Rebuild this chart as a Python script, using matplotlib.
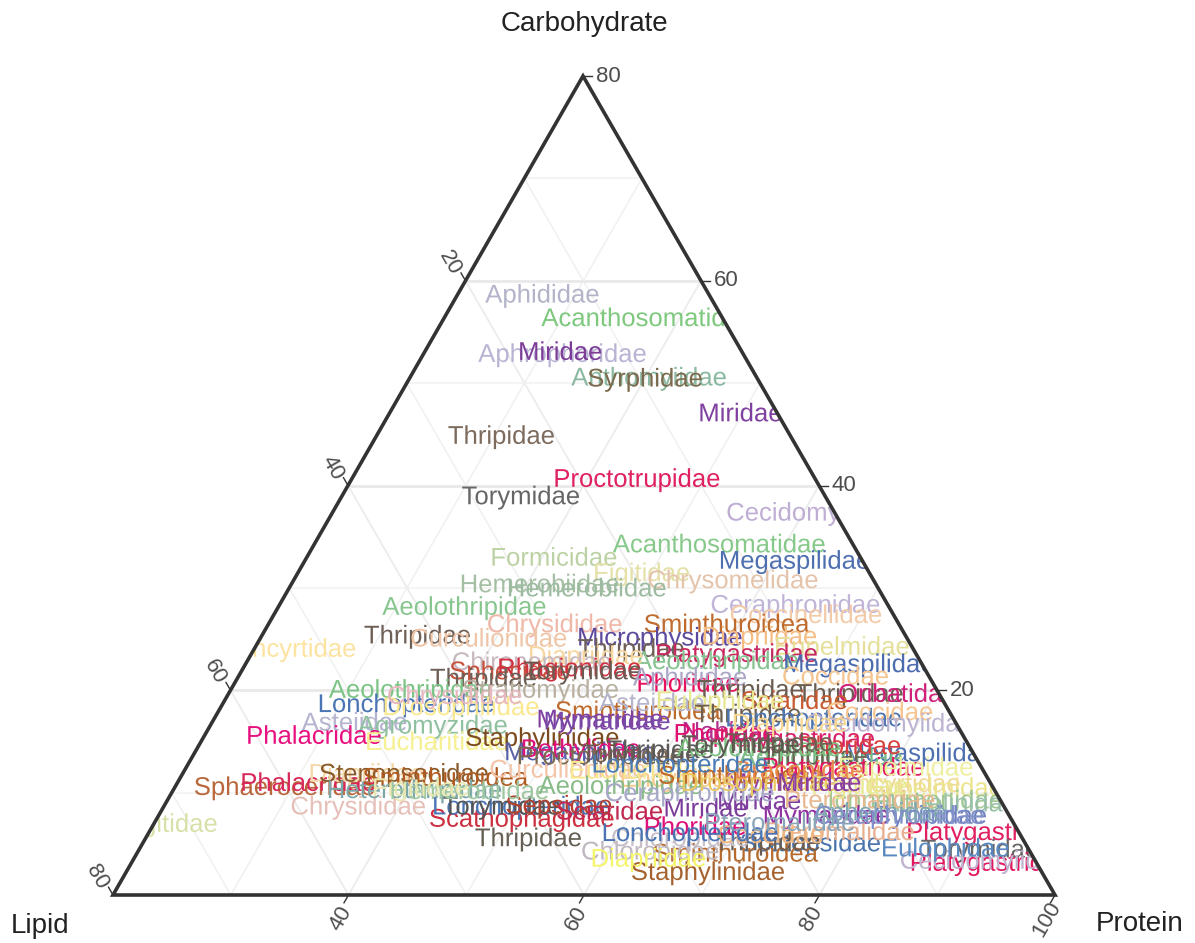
"""Ternary plot of insect family labels by carbohydrate, lipid and protein share."""
import matplotlib
matplotlib.use("Agg")
import matplotlib.pyplot as plt
import matplotlib.patheffects as pe
from matplotlib.patches import Polygon

plt.rcParams["font.family"] = ["Liberation Sans", "DejaVu Sans"]

families = [
    "Aphididae", "Acanthosomatidae", "Aphrophoridae", "Miridae", "Anthomyiidae",
    "Syrphidae", "Miridae", "Thripidae", "Proctotrupidae", "Torymidae",
    "Cecidomyiidae", "Acanthosomatidae", "Megaspilidae", "Formicidae", "Figitidae",
    "Chrysomelidae", "Hemerobiidae", "Hemerobiidae", "Aeolothripidae", "Ceraphronidae",
    "Coccinellidae", "Chrysididae", "Sminthuroidea", "Thripidae", "Curculionidae",
    "Microphysidae", "Thripidae", "Encyrtidae", "Diapriidae", "Eupelmidae",
    "Platygastridae", "Aeolothripidae", "Megaspilidae", "Coccidae", "Diapriidae",
    "Chironomidae", "Sphecidae", "Rhagionidae", "Thripidae", "Torymidae",
    "Aeolothripidae", "Stratiomyidae", "Lonchopteridae", "Drosophilidae", "Chrysididae",
    "Asteiidae", "Agromyzidae", "Phalacridae", "Eucharitidae", "Staphylinidae",
    "Sminthuroidea", "Mymaridae", "Mymaridae", "Asteiidae", "Nabidae",
    "Phoridae", "Platygastridae", "Phoridae", "Aphididae", "Thripidae",
    "Thripidae", "Oribatidae", "Sciaridae", "Eulophidae", "Thripidae",
    "Lonchopteridae", "Coccidae", "Cecidomyiidae", "Diapriidae", "Megaspilidae",
    "Aeolothripidae", "Thripidae", "Platygastridae", "Phoridae", "Eupelmidae",
    "Encyrtidae", "Eupelmidae", "Ichneumonidae", "Aphelinidae", "Cynipidae",
    "Mymaridae", "Mymaridae", "Platygastridae", "Torymidae", "Platygastridae",
    "Cecidomyiidae", "Eulophidae", "Scatopsidae", "Pteromalidae", "Sminthuroidea",
    "Thripidae", "Staphylinidae", "Chloropidae", "Chloropidae", "Diapriidae",
    "Phoridae", "Miridae", "Miridae", "Thripidae", "Scathophagidae",
    "Lonchopteridae", "Torymidae", "Sepsidae", "Sciaridae", "Chrysididae",
    "Sphaeroceridae", "Phalacridae", "Diapriidae", "Stenopsocidae", "Sminthuroidea",
    "Figitidae", "Heterothripidae", "Hemerobiidae", "Figitidae", "Megaspilidae",
    "Bethylidae", "Proctotrupidae", "Torymidae", "Thripidae", "Curculionidae",
    "Encyrtidae", "Aeolothripidae", "Eucharitidae", "Sminthuroidea", "Ceraphronidae",
    "Drosophilidae", "Braconidae", "Lonchopteridae", "Aeolothripidae", "Thripidae",
    "Torymidae", "Pteromalidae", "Aphelinidae", "Ceraphronidae", "Figitidae",
    "Miridae", "Coccidae", "Lonchopteridae", "Pteromalidae",
]

carbohydrate = [
    58.7, 56.4, 52.9, 53.1, 50.6, 50.5, 47.1, 44.9, 40.7, 39.0,
    37.4, 34.3, 32.7, 33.0, 31.5, 30.8, 30.4, 30.0, 28.2, 28.4,
    27.4, 26.5, 26.5, 25.4, 25.1, 25.2, 24.1, 24.1, 25.3, 24.3,
    23.6, 22.9, 22.6, 21.4, 23.4, 22.8, 21.9, 22.2, 21.2, 21.9,
    20.1, 20.1, 18.7, 18.4, 19.5, 16.9, 16.6, 15.6, 15.0, 15.4,
    18.0, 17.2, 17.0, 18.8, 16.0, 15.8, 15.3, 20.7, 21.3, 20.1,
    19.7, 19.7, 19.0, 19.0, 17.7, 17.3, 17.9, 16.8, 16.8, 13.9,
    13.5, 13.6, 12.5, 14.6, 12.5, 10.9, 10.5, 9.3, 9.0, 7.8,
    7.8, 11.0, 6.2, 4.5, 3.2, 3.4, 4.6, 5.1, 6.2, 4.1,
    5.2, 2.3, 4.3, 5.6, 3.6, 6.7, 8.5, 9.2, 5.6, 7.5,
    8.7, 8.7, 8.8, 8.2, 8.7, 10.6, 11.0, 11.9, 11.9, 11.5,
    7.0, 10.3, 10.2, 10.5, 14.0, 14.3, 13.6, 13.8, 14.2, 12.3,
    11.4, 10.7, 12.2, 11.7, 10.0, 11.0, 12.2, 12.8, 14.4, 14.9,
    14.7, 9.3, 8.1, 7.8, 10.7, 11.0, 5.9, 6.1, 7.1,
]

lipid = [
    14.1, 6.3, 15.3, 15.4, 9.1, 9.5, 3.1, 24.5, 15.1, 25.8,
    2.0, 11.3, 5.7, 26.0, 19.3, 11.9, 28.5, 24.7, 36.0, 7.8,
    7.4, 29.2, 14.6, 41.4, 35.5, 20.9, 23.9, 52.4, 12.4, 5.9,
    15.2, 17.2, 5.3, 7.9, 28.1, 33.0, 35.3, 30.1, 37.9, 29.1,
    44.6, 33.6, 45.7, 41.2, 41.2, 51.0, 44.5, 55.1, 45.0, 35.8,
    26.4, 30.0, 29.5, 24.8, 19.6, 20.1, 14.5, 20.8, 20.3, 15.8,
    7.5, 3.5, 12.6, 18.9, 17.2, 11.8, 5.9, 5.6, 14.1, 4.5,
    13.1, 13.6, 11.7, 10.1, 6.4, 7.7, 4.9, 7.2, 4.4, 6.7,
    15.5, 17.0, 2.6, 4.1, 3.8, 4.3, 7.0, 18.2, 15.2, 25.1,
    21.8, 28.3, 32.2, 29.0, 32.7, 27.2, 25.4, 20.5, 41.9, 41.5,
    41.0, 42.6, 37.7, 33.7, 54.8, 60.1, 57.9, 52.5, 49.3, 46.0,
    71.7, 49.2, 44.6, 48.6, 33.3, 33.1, 31.8, 28.3, 26.4, 35.2,
    26.1, 31.5, 29.1, 20.8, 26.0, 19.6, 15.6, 25.4, 17.9, 15.9,
    19.3, 11.9, 10.8, 9.3, 11.2, 14.5, 21.2, 27.9, 19.8,
]

protein = [
    27.2, 37.3, 31.8, 31.5, 40.3, 40.0, 49.8, 30.6, 44.2, 35.2,
    60.6, 54.4, 61.6, 41.0, 49.2, 57.3, 41.1, 45.3, 35.8, 63.8,
    65.2, 44.3, 58.9, 33.2, 39.4, 53.9, 52.0, 23.5, 62.3, 69.8,
    61.2, 59.9, 72.1, 70.7, 48.5, 44.2, 42.8, 47.7, 40.9, 49.0,
    35.3, 46.3, 35.6, 40.4, 39.3, 32.1, 38.9, 29.3, 40.0, 48.8,
    55.6, 52.8, 53.5, 56.4, 64.4, 64.1, 70.2, 58.5, 58.4, 64.1,
    72.8, 76.8, 68.4, 62.1, 65.1, 70.9, 76.2, 77.6, 69.1, 81.6,
    73.4, 72.8, 75.8, 75.3, 81.1, 81.4, 84.6, 83.5, 86.6, 85.5,
    76.7, 72.0, 91.2, 91.4, 93.0, 92.3, 88.4, 76.7, 78.6, 70.8,
    73.0, 69.4, 63.5, 65.4, 63.7, 66.1, 66.1, 70.3, 52.5, 51.0,
    50.3, 48.7, 53.5, 58.1, 36.5, 29.3, 31.1, 35.6, 38.8, 42.5,
    21.3, 40.5, 45.2, 40.9, 52.7, 52.6, 54.6, 57.9, 59.4, 52.5,
    62.5, 57.8, 58.7, 67.5, 64.0, 69.4, 72.2, 61.8, 67.7, 69.2,
    66.0, 78.8, 81.1, 82.9, 78.1, 74.5, 72.9, 66.0, 73.1,
]

label_colors = [
    "#b3b3c9", "#7fc97f", "#b9b3d4", "#7d3c98", "#8ab8a0",
    "#7b6a4d", "#8040a0", "#7d6b5d", "#e0205f", "#666666",
    "#bfaed4", "#86c98a", "#4e6fb0", "#bdd2a4", "#e4e0a8",
    "#e5c4ac", "#a5bfa5", "#9dbba0", "#87c68f", "#c0b4d8",
    "#f3cba8", "#f0b8a8", "#bf6b2d", "#6e5f57", "#efc5a8",
    "#5d4a9e", "#6e5f57", "#fde3a0", "#f4bd84", "#e4e09a",
    "#c8285f", "#86c390", "#4c6cb0", "#f5c48f", "#f7d7a0",
    "#c8b8c0", "#c6503a", "#d0303f", "#6e5f57", "#6b5a52",
    "#7cc485", "#b8b0a0", "#4a74b4", "#fbe88f", "#e8b8c0",
    "#b4b4d0", "#8fc0a0", "#e8107f", "#f6f090", "#7b4a1f",
    "#bf6b2d", "#803fa0", "#7a4aa8", "#b4b4cc", "#b0308f",
    "#e01070", "#d8206a", "#e8105e", "#aba6c6", "#6a5c50",
    "#6a5c50", "#d0207a", "#c85a30", "#e8e890", "#6f6152",
    "#4f76b0", "#f7c590", "#bdb4d2", "#f8d890", "#4f70b0",
    "#78b888", "#6a6350", "#e01860", "#d8403f", "#eef0a0",
    "#f0d898", "#ece48c", "#a0c890", "#98c0a8", "#7080c0",
    "#9030a0", "#9040a0", "#e0205f", "#666666", "#e01860",
    "#c0b4d0", "#5a88c0", "#4a74ac", "#e8b090", "#b56b2e",
    "#6a5c50", "#a5622f", "#c0b8c0", "#c8c0c8", "#f5f56a",
    "#e0107a", "#7a3c98", "#8040a0", "#666055", "#cc2f3f",
    "#4a74b4", "#555555", "#b3412f", "#c02850", "#e6c0b8",
    "#b9673a", "#d8285a", "#f4d8a8", "#8a5a2a", "#b05a20",
    "#d8e0a8", "#7da8a8", "#a0c8a0", "#e8e8b0", "#5a60a8",
    "#e0107a", "#7a6a50", "#6b5a52", "#5a5a5a", "#f4c4a8",
    "#f7c98a", "#88bb88", "#f7e88f", "#c06a2a", "#a8a8c8",
    "#e8c860", "#e8884a", "#4a7ab4", "#7cc080", "#6a5f50",
    "#5a5a50", "#e8b890", "#80a8b0", "#8090c8", "#e8e890",
    "#8a3fa0", "#f0b880", "#4a74b4", "#8aa4b8",
]

grid_steps = [10, 20, 30, 40, 50, 60, 70]
major_steps = [20, 40, 60]
carb_ticks = [20, 40, 60, 80]
lipid_ticks = [20, 40, 60, 80]
protein_ticks = [40, 60, 80, 100]

# triangle corners in figure pixels
TOP = (583, 76)
LEFT = (113, 895)
RIGHT = (1055, 895)


def tern(c, l, p):
    # carbohydrate and lipid run 0-80, protein 20-100
    a, b, r = c / 80, l / 80, (p - 20) / 80
    return (a * TOP[0] + b * LEFT[0] + r * RIGHT[0],
            a * TOP[1] + b * LEFT[1] + r * RIGHT[1])


fig = plt.figure(figsize=(11.95, 9.43), dpi=100)
ax = fig.add_axes([0, 0, 1, 1])
ax.set_xlim(0, 1195)
ax.set_ylim(943, 0)
ax.axis("off")

for v in grid_steps:
    major = v in major_steps
    hz = ("#e9e9e9", 2.0) if major else ("#f1f1f1", 1.1)
    sl = ("#ececec", 1.3) if major else ("#f0f0f0", 1.1)
    pts = [tern(v, 80 - v, 20), tern(v, 0, 100 - v)]
    ax.plot(*zip(*pts), color=hz[0], lw=hz[1], zorder=1)
    pts = [tern(80 - v, v, 20), tern(0, v, 100 - v)]
    ax.plot(*zip(*pts), color=sl[0], lw=sl[1], zorder=1)
    pts = [tern(80 - v, 0, 20 + v), tern(0, 80 - v, 20 + v)]
    ax.plot(*zip(*pts), color=sl[0], lw=sl[1], zorder=1)

clip = Polygon([TOP, LEFT, RIGHT], closed=True, transform=ax.transData,
               fill=False, edgecolor="none")
ax.add_patch(clip)

for name, c, l, p, col in zip(families, carbohydrate, lipid, protein, label_colors):
    x, y = tern(c, l, p)
    t = ax.text(x, y - 1, name, color=col, fontsize=18.5, ha="center",
                va="center_baseline", zorder=3, clip_on=True)
    t.set_clip_path(clip)
    # agg ignores clip paths on plain text, the path effect draws it as a path
    t.set_path_effects([pe.Normal()])

ax.add_patch(Polygon([TOP, LEFT, RIGHT], closed=True, fill=False,
                     edgecolor="#333333", lw=2.6, joinstyle="miter", zorder=5))

tick_col = "#4d4d4d"
for v in carb_ticks:
    x, y = tern(v, 0, 100 - v)
    ax.plot([x, x + 9], [y, y], color="#333333", lw=1, zorder=4)
    ax.text(x + 13, y, str(v), color=tick_col, fontsize=16, ha="left", va="center")
for v in lipid_ticks:
    x, y = tern(80 - v, v, 20)
    ax.plot([x, x - 4.5], [y, y - 7.8], color="#333333", lw=1, zorder=4)
    ax.text(x - 16, y - 18, str(v), color=tick_col, fontsize=16, rotation=-60,
            ha="center", va="center", rotation_mode="anchor")
for v in protein_ticks:
    x, y = tern(0, 100 - v, v)
    ax.plot([x, x - 4.5], [y, y + 7.8], color="#333333", lw=1, zorder=4)
    ax.text(x - 8, y + 24, str(v), color=tick_col, fontsize=16, rotation=60,
            ha="center", va="center", rotation_mode="anchor")

ax.text(584, 24, "Carbohydrate", fontsize=20, color="#222222", ha="center", va="center")
ax.text(40, 926, "Lipid", fontsize=20, color="#222222", ha="center", va="center")
ax.text(1140, 924, "Protein", fontsize=20, color="#222222", ha="center", va="center")

fig.savefig("out.png", dpi=100)
